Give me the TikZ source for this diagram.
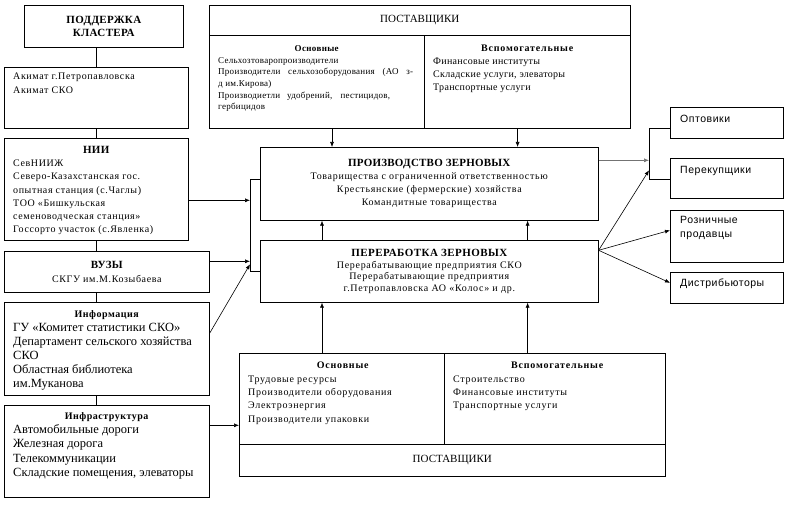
\documentclass[tikz,border=0pt]{standalone}
\usepackage{fontspec}
\setmainfont{Liberation Serif}
\newfontfamily\arialfont{Liberation Sans}
\usetikzlibrary{positioning,arrows.meta}

\newcommand{\lsp}[1]{\addfontfeature{LetterSpace=#1}}
\tikzset{
  box/.style={draw,line width=0.6pt,inner sep=0pt,anchor=north west},
  txt/.style={inner sep=0pt,anchor=north west,align=left},
  arr/.style={-{Latex[length=5pt,width=4pt]},line width=0.6pt},
  ln/.style={line width=0.6pt},
  buyer/.style={txt,font=\arialfont\fontsize{10.5}{14}\selectfont\lsp{5}},
}

\begin{document}
\begin{tikzpicture}[x=1pt,y=-1pt]
\useasboundingbox (0,0) rectangle (791,505);

% left column
\node[box,minimum width=159pt,minimum height=42pt,align=center,font=\bfseries\fontsize{11}{13}\selectfont\lsp{3}] (support) at (24,5) {ПОДДЕРЖКА\\КЛАСТЕРА};
\node[box,minimum width=184pt,minimum height=61pt] (akimat) at (4,67) {};
\node[txt,font=\fontsize{10}{14}\selectfont\lsp{6}] (akimattxt) at ([shift={(9,6)}]akimat.north west) {Акимат г.Петропавловска\\Акимат СКО};
\node[box,minimum width=184pt,minimum height=102pt] (nii) at (4,138) {};
\node[txt,font=\fontsize{10}{13.2}\selectfont\lsp{6}] (niitxt) at ([shift={(9,8)}]nii.north west)
  {\makebox[166pt]{\bfseries\fontsize{11}{13}\selectfont\lsp{3}НИИ}\\СевНИИЖ\\Северо-Казахстанская гос.\\опытная станция (с.Чаглы)\\ТОО «Бишкульская\\семеноводческая станция»\\Госсорто участок (с.Явленка)};
\node[box,minimum width=205pt,minimum height=41pt,align=center,font=\fontsize{10}{14}\selectfont\lsp{6}] (vuz) at (4,251) {{\bfseries\fontsize{11}{13}\selectfont\lsp{3}ВУЗЫ}\\СКГУ им.М.Козыбаева};
\node[box,minimum width=205pt,minimum height=93pt] (info) at (4,302) {};
\node[txt,font=\fontsize{12.5}{14}\selectfont] (infotxt) at ([shift={(9,8)}]info.north west)
  {\makebox[187pt]{\bfseries\fontsize{10}{11}\selectfont\lsp{5}Информация}\\ГУ «Комитет статистики СКО»\\Департамент сельского хозяйства\\СКО\\Областная библиотека\\им.Муканова};
\node[box,minimum width=205pt,minimum height=92pt] (infra) at (4,405) {};
\node[txt,font=\fontsize{12.5}{14.3}\selectfont] (infratxt) at ([shift={(9,7)}]infra.north west)
  {\makebox[187pt]{\bfseries\fontsize{10}{11}\selectfont\lsp{5}Инфраструктура}\\Автомобильные дороги\\Железная дорога\\Телекоммуникации\\Складские помещения, элеваторы};

\draw[ln] (akimat.north) -- (akimat.north |- support.south);
\draw[ln] (akimat.south) -- (nii.north);
\draw[ln] (nii.south) -- (nii.south |- vuz.north);
\draw[ln] (nii.south |- vuz.south) -- (nii.south |- info.north);
\draw[ln] (nii.south |- info.south) -- (nii.south |- infra.north);

% top suppliers
\node[box,minimum width=421pt,minimum height=123pt] (supA) at (209,5) {};
\node[box,minimum width=421pt,minimum height=30pt,font=\fontsize{11}{13}\selectfont] (supAhead) at (209,5) {ПОСТАВЩИКИ};
\draw[ln] ([xshift=215pt]supAhead.south west) coordinate (supAmid) -- (supAmid |- supA.south);
\node[txt,font=\fontsize{9}{11.6}\selectfont\lsp{3}] (supAmain) at ([shift={(9,10)}]supAhead.south west)
  {\makebox[197pt]{\bfseries\lsp{4}Основные}\\Сельхозтоваропроизводители\\\makebox[195pt][s]{Производители сельхозоборудования (АО з-}\\д им.Кирова)\\\makebox[172pt][s]{Производиетли удобрений, пестицидов,}\\гербицидов};
\node[txt,font=\fontsize{10}{13.2}\selectfont\lsp{3}] (supAaux) at ([shift={(9,9)}]supAmid)
  {\makebox[188pt]{\bfseries\lsp{8}Вспомогательные}\\Финансовые институты\\Складские услуги, элеваторы\\Транспортные услуги};

% centre
\node[box,minimum width=338pt,minimum height=73pt,align=center,font=\fontsize{10}{13}\selectfont\lsp{7}] (prod) at (260,147)
  {{\bfseries\fontsize{11}{13}\selectfont\lsp{2}ПРОИЗВОДСТВО ЗЕРНОВЫХ}\\Товарищества с ограниченной ответственностью\\Крестьянские (фермерские) хозяйства\\Командитные товарищества};
\node[box,minimum width=338pt,minimum height=62pt,align=center,font=\fontsize{10}{11.5}\selectfont\lsp{7}] (proc) at (260,240)
  {{\bfseries\fontsize{11}{13.5}\selectfont\lsp{4}ПЕРЕРАБОТКА ЗЕРНОВЫХ}\\Перерабатывающие предприятия СКО\\Перерабатывающие предприятия\\г.Петропавловска АО «Колос» и др.};

% bottom suppliers
\node[box,minimum width=426pt,minimum height=123pt] (supB) at (239,353) {};
\node[box,minimum width=426pt,minimum height=32pt,anchor=south west,font=\fontsize{11}{13}\selectfont] (supBfoot) at (supB.south west) {ПОСТАВЩИКИ};
\draw[ln] ([xshift=205pt]supB.north west) coordinate (supBmid) -- (supBmid |- supBfoot.north);
\node[txt,font=\fontsize{10}{13.3}\selectfont\lsp{7}] (supBmain) at ([shift={(9,9)}]supB.north west)
  {\makebox[189pt]{\bfseries\lsp{8}Основные}\\Трудовые ресурсы\\Производители оборудования\\Электроэнергия\\Производители упаковки};
\node[txt,font=\fontsize{10}{13.3}\selectfont\lsp{7}] (supBaux) at ([shift={(9,9)}]supBmid)
  {\makebox[208pt]{\bfseries\lsp{8}Вспомогательные}\\Строительство\\Финансовые институты\\Транспортные услуги};

% buyers
\node[box,minimum width=113pt,minimum height=31pt] (opt) at (670,107) {};
\node[buyer] (opttxt) at ([shift={(10,8)}]opt.north west) {Оптовики};
\node[box,minimum width=113pt,minimum height=40pt] (perek) at (670,158) {};
\node[buyer] (perektxt) at ([shift={(10,8)}]perek.north west) {Перекупщики};
\node[box,minimum width=113pt,minimum height=52pt] (roz) at (670,210) {};
\node[buyer] (roztxt) at ([shift={(10,6)}]roz.north west) {Розничные\\продавцы};
\node[box,minimum width=113pt,minimum height=31pt] (dist) at (670,272) {};
\node[buyer] (disttxt) at ([shift={(10,7)}]dist.north west) {Дистрибьюторы};

% links to the centre
\draw[arr] ([xshift=123pt]supA.south west) coordinate (dA) -- (dA |- prod.north);
\draw[arr] ([xshift=-113pt]supA.south east) coordinate (dB) -- (dB |- prod.north);
\draw[arr] ([xshift=62pt]proc.north west) coordinate (uA) -- (uA |- prod.south);
\draw[arr] ([xshift=-71pt]proc.north east) coordinate (uB) -- (uB |- prod.south);
\draw[arr] (uA |- supB.north) -- (uA |- proc.south);
\draw[arr] (uB |- supB.north) -- (uB |- proc.south);

\draw[ln] ([yshift=4.5pt]prod.west) -- ++(-10pt,0) coordinate (brL) |- (proc.west);
\coordinate (niiout) at ([yshift=-11pt]nii.east);
\draw[arr] (niiout) -- (niiout -| brL);
\coordinate (vuzout) at ([yshift=10.5pt]vuz.east);
\draw[arr] (vuzout) -- (vuzout -| brL);
\draw[arr] ([yshift=15.5pt]info.east) -- ([yshift=7pt]brL |- proc.west);
\coordinate (infraout) at ([yshift=26pt]infra.east);
\draw[arr] (infraout) -- (infraout -| supB.west);

% links to the buyers
\draw[ln] ([yshift=-5.5pt]opt.west) -- ++(-21pt,0) coordinate (brR) |- ([yshift=-1pt]perek.west);
\coordinate (prodout) at ([yshift=23.5pt]prod.east);
\draw[arr,black!55] (prodout) -- (prodout -| brR);
\coordinate (procout) at ([yshift=21pt]proc.east);
\draw[arr] (procout) -- ([yshift=-42pt]brR);
\draw[arr] (procout) -- ([yshift=6pt]roz.west);
\draw[arr] (procout) -- ([yshift=5pt]dist.west);
\end{tikzpicture}
\end{document}
